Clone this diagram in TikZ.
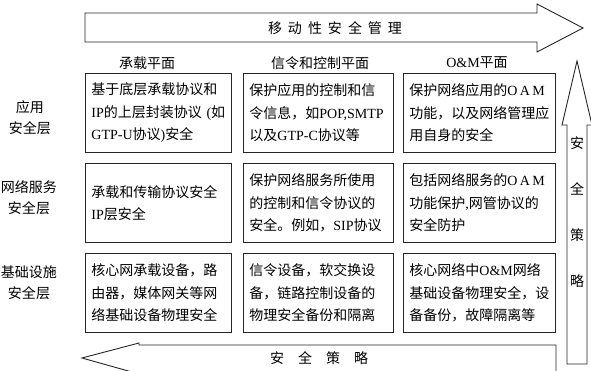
\documentclass[tikz,border=0pt]{standalone}
\usepackage{fontspec}
\setmainfont{Liberation Serif}
\newfontfamily\cjk{Noto Sans CJK SC}
\newcommand\E[1]{{\rmfamily #1}}
\begin{document}
\begin{tikzpicture}[x=1pt,y=-1pt,
  cell/.style={draw=black!85,line width=0.9pt,anchor=north west,inner xsep=6pt,inner ysep=0pt,
    align=left,font=\cjk\fontsize{14}{22.5}\selectfont},
  hdr/.style={font=\cjk\fontsize{14}{20}\selectfont},
  lbl/.style={font=\cjk\fontsize{14}{21}\selectfont,align=center},
  arr/.style={draw=black!85,line width=0.9pt,fill=white}]
\useasboundingbox (0,0) rectangle (591,371);
% top arrow
\draw[arr] (85,13) -- (537,13) -- (537,4) -- (583,28) -- (537,52) -- (537,42) -- (85,42) -- cycle;
\node[hdr] (top) at (335,28) {移\hspace{6pt}动\hspace{6pt}性\hspace{6pt}安\hspace{6pt}全\hspace{6pt}管\hspace{6pt}理};
% right arrow
\draw[arr] (567,364) -- (567,125) -- (562,125) -- (577,61) -- (592,125) -- (587,125) -- (587,364) -- cycle;
\node[hdr,align=center] (right) at (577,212) {安\\[26pt]全\\[26pt]策\\[26pt]略};
% bottom arrow
\draw[arr] (139,343) -- (82,358) -- (139,374) -- (139,373) -- (556,373) -- (556,345) -- (139,345) -- cycle;
\node[hdr] (bottom) at (319,358) {安\hspace{14pt}全\hspace{14pt}策\hspace{14pt}略};
% column headers
\node[hdr] (h1) at (147,63) {承载平面};
\node[hdr] (h2) at (320,63) {信令和控制平面};
\node[hdr] (h3) at (477,63) {\E{O\&M}平面};
% row labels
\node[lbl] (l1) at (30,118) {应用\\安全层};
\node[lbl] (l2) at (29,198) {网络服务\\安全层};
\node[lbl] (l3) at (29,283) {基础设施\\安全层};
% cells
\node[cell,minimum width=146pt,minimum height=79pt,text width=134pt] (c11) at (85,73)
  {基于底层承载协议和\\\E{IP}的上层封装协议\E{ (}如\\\E{GTP-U}协议\E{)}安全};
\node[cell,minimum width=150pt,minimum height=79pt,text width=138pt] (c12) at (243,73)
  {保护应用的控制和信\\令信息，如\E{POP,SMTP}\\以及\E{GTP-C}协议等};
\node[cell,minimum width=152pt,minimum height=79pt,text width=140pt] (c13) at (403,73)
  {保护网络应用的\E{O\,A\,M}\\功能，以及网络管理应\\用自身的安全};
\node[cell,minimum width=146pt,minimum height=79pt,text width=134pt] (c21) at (85,163)
  {承载和传输协议安全\\\E{IP}层安全};
\node[cell,minimum width=150pt,minimum height=79pt,text width=138pt] (c22) at (243,163)
  {保护网络服务所使用\\的控制和信令协议的\\安全。例如，\E{SIP}协议};
\node[cell,minimum width=152pt,minimum height=79pt,text width=140pt] (c23) at (403,163)
  {包括网络服务的\E{O\,A\,M}\\功能保护\E{,}网管协议的\\安全防护};
\node[cell,minimum width=146pt,minimum height=79pt,text width=134pt] (c31) at (85,253)
  {核心网承载设备，路\\由器，媒体网关等网\\络基础设备物理安全};
\node[cell,minimum width=150pt,minimum height=79pt,text width=138pt] (c32) at (243,253)
  {信令设备，软交换设\\备，链路控制设备的\\物理安全备份和隔离};
\node[cell,minimum width=152pt,minimum height=79pt,text width=140pt] (c33) at (403,253)
  {核心网络中\E{O\&M}网络\\基础设备物理安全，设\\备备份，故障隔离等};
\end{tikzpicture}
\end{document}
